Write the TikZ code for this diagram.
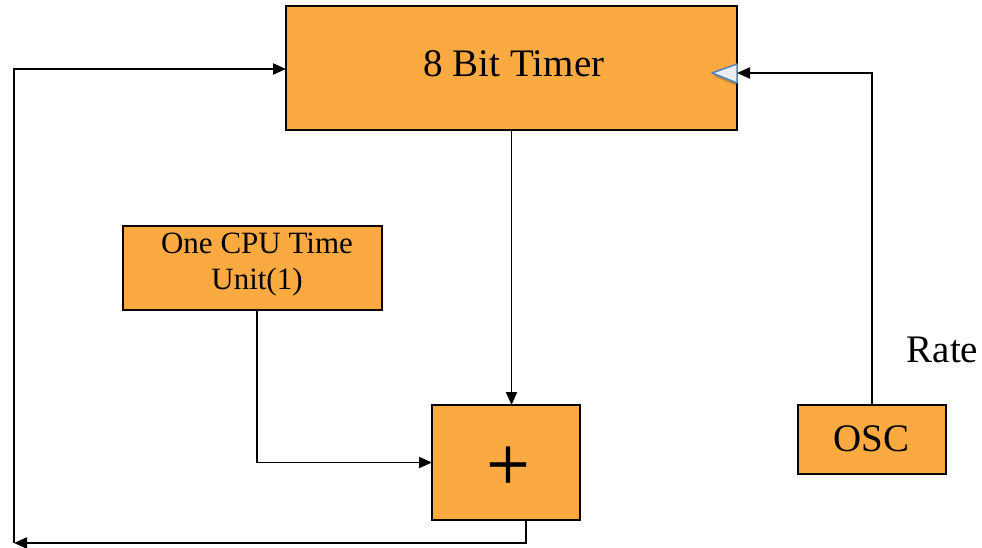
\documentclass[tikz,border=0pt]{standalone}
\usepackage{fontspec}
\setmainfont{Liberation Serif}
\newfontfamily\plusfont[FakeBold=0.6]{Liberation Serif}
\usetikzlibrary{arrows.meta}
\definecolor{boxorange}{RGB}{251,170,66}
\definecolor{clkblue}{RGB}{79,129,189}
\definecolor{clkfill}{RGB}{236,238,242}
\begin{document}
\begin{tikzpicture}[x=1pt,y=-1pt,
  blk/.style={draw=black, line width=2pt, fill=boxorange, inner sep=0pt, outer sep=0pt},
  conn/.style={line width=1.9pt, -{Triangle[length=13pt,width=11pt]}},
  lbl/.style={anchor=base, inner sep=0pt, font=\fontsize{39}{46}\selectfont}]
\useasboundingbox (0,0) rectangle (982,548);

% blocks
\node[blk, minimum width=451pt, minimum height=124pt] (timer) at (511.5,68) {};
\node[blk, minimum width=259pt, minimum height=84pt]  (cpu)   at (252.5,268) {};
\node[blk, minimum width=148pt, minimum height=115pt] (plus)  at (506,462.5) {};
\node[blk, minimum width=148pt, minimum height=69pt]  (osc)   at (872,439.5) {};

% block texts
\node[lbl] at (514,77) {8 Bit Timer};
\node[align=center, inner sep=0pt, font=\fontsize{31}{36}\selectfont] at (257,265) {One CPU Time\\Unit(1)};
\node[lbl] at (871.5,451) {OSC};
\node[lbl, font=\plusfont\fontsize{77}{80}\selectfont] at (508,490) {+};
\node[lbl] at (942.5,362) {Rate};

% clock input mark on the timer
\foreach \o/\a in {4/0.06,3/0.08,2/0.1}
  \fill[black, opacity=\a] (737,64+\o) -- (712+\o/2,73+\o) -- (737,83+\o) -- cycle;
\draw[clkblue, fill=clkfill, line width=1.5pt, line join=round] (737,64) -- (712,73) -- (737,83) -- cycle;

% connectors
\coordinate (ret) at (14,543);
\draw[conn] (timer.south) -- (timer.south |- plus.north);
\draw[conn] ([xshift=4.5pt]cpu.south) |- (plus.west);
\draw[conn] (osc.north) |- ([yshift=-5pt]timer.east);
\draw[conn] ([xshift=20pt]plus.south) |- (ret);
\draw[conn] (ret) |- ([yshift=-1pt]timer.west);
\end{tikzpicture}
\end{document}
